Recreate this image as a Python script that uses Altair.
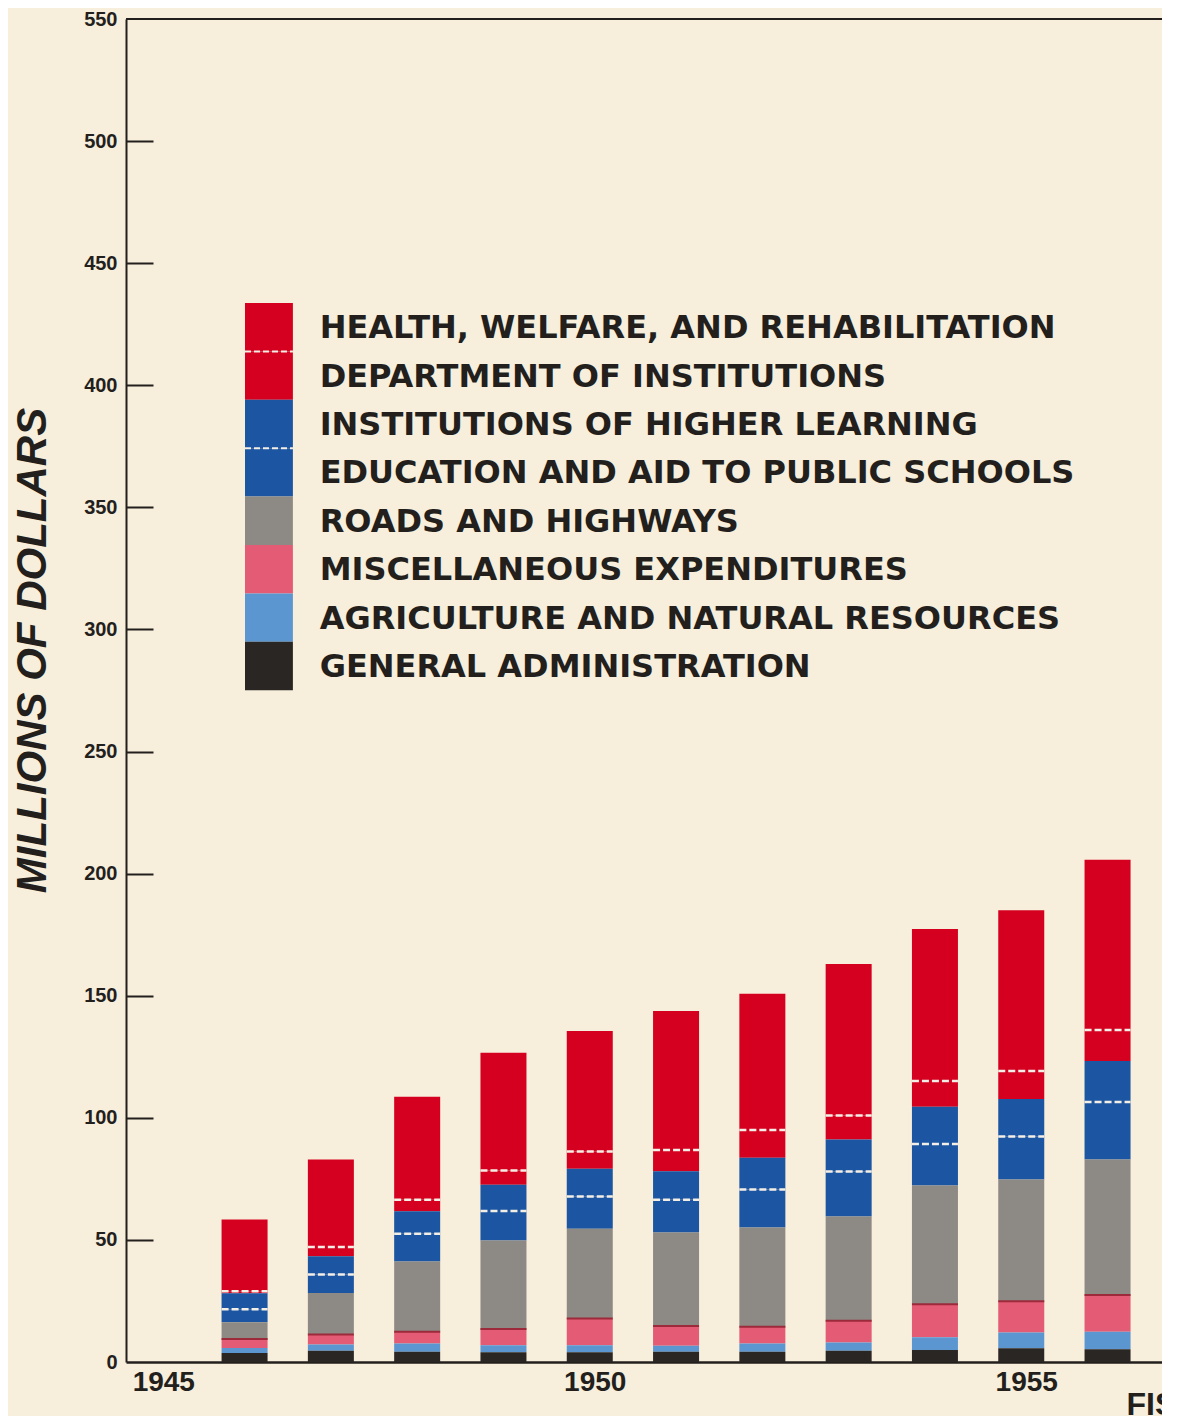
import altair as alt
import pandas as pd

# ---------------- data (millions of dollars) ----------------
years = [1946, 1947, 1948, 1949, 1950, 1951, 1952, 1953, 1954, 1955, 1956]

general_admin = [3.7, 4.6, 4.2, 4.0, 4.0, 4.2, 4.2, 4.6, 4.9, 5.6, 5.2]
agriculture   = [2.0, 2.6, 3.4, 2.9, 2.9, 2.5, 3.4, 3.4, 5.2, 6.5, 7.2]
miscellaneous = [3.7, 4.1, 4.8, 6.6, 10.9, 8.0, 6.8, 8.9, 13.6, 12.8, 15.0]
roads         = [6.9, 17.0, 28.8, 36.3, 36.8, 38.3, 40.7, 42.7, 48.6, 49.8, 55.5]
education     = [5.3, 7.5, 11.3, 12.0, 13.2, 13.4, 15.5, 18.4, 17.0, 17.6, 23.6]
higher_learn  = [6.6, 7.5, 9.2, 10.8, 11.3, 11.7, 13.0, 13.1, 15.2, 15.4, 16.8]
institutions  = [0.8, 3.8, 4.7, 5.8, 7.1, 8.7, 11.4, 9.8, 10.6, 11.5, 12.7]
health        = [29.4, 35.8, 42.2, 48.2, 49.4, 56.9, 55.8, 62.1, 62.2, 65.8, 69.7]

categories = [
    "HEALTH, WELFARE, AND REHABILITATION",
    "DEPARTMENT OF INSTITUTIONS",
    "INSTITUTIONS OF HIGHER LEARNING",
    "EDUCATION AND AID TO PUBLIC SCHOOLS",
    "ROADS AND HIGHWAYS",
    "MISCELLANEOUS EXPENDITURES",
    "AGRICULTURE AND NATURAL RESOURCES",
    "GENERAL ADMINISTRATION",
]
colors = ["#d5001f", "#d5001f", "#1c55a1", "#1c55a1", "#8d8a85", "#e35b74", "#5b96d1", "#2a2624"]
series = [health, institutions, higher_learn, education, roads, miscellaneous, agriculture, general_admin]
split_below = [0, 1, 0, 1, 0, 0, 0, 0]   # white dashed divider on top of these legend rows

y_ticks = [0, 50, 100, 150, 200, 250, 300, 350, 400, 450, 500, 550]
y_inner_ticks = [50, 100, 150, 200, 250, 300, 350, 400, 450, 500]
x_ticks = [1945, 1950, 1955]

# ---------------- tables built from the arrays ----------------
rows = []
n = len(categories)
for ci, (cat, col, vals) in enumerate(zip(categories, colors, series)):
    for yr, v in zip(years, vals):
        rows.append({"year": yr, "category": cat, "value": v, "color": col,
                     "stack_order": n - 1 - ci})
long_df = pd.DataFrame(rows)

wide_df = pd.DataFrame({
    "year": years, "ga": general_admin, "agri": agriculture, "misc": miscellaneous,
    "roads": roads, "edu": education, "higher": higher_learn, "inst": institutions,
    "health": health,
})

leg_df = pd.DataFrame({"label": categories, "color": colors,
                       "row": list(range(n)), "split": split_below})

# ---------------- layout constants ----------------
W, H = 1036, 1343
HALF = 0.2665            # half bar width in years
LEG_TOP, ROW_H = 433.69, 19.82
SW_X0, SW_X1, TXT_X = 1946.005, 1946.56, 1946.87
INK = "#231f1c"
BG = "#f7eedc"

x_scale = alt.Scale(domain=[1944.626, 1956.631], nice=False, zero=False, padding=0)
y_scale = alt.Scale(domain=[0, 550], nice=False, padding=0)

x_axis = alt.Axis(values=x_ticks, format="d", title="FISCAL YEARS", grid=False,
                  ticks=False, tickSize=0, labelPadding=6, labelOffset=5,
                  labelFlush=False, labelFont="Liberation Sans", labelFontWeight="bold",
                  labelFontSize=28, labelColor=INK, domainColor=INK, domainWidth=2.5,
                  titleFont="Liberation Sans", titleFontWeight="bold", titleFontSize=32,
                  titleColor=INK, titleAlign="left", titleBaseline="alphabetic",
                  titleX=1000, titleY=52)

y_axis = alt.Axis(orient="left", values=y_ticks, title="MILLIONS OF DOLLARS", grid=False,
                  ticks=False, tickSize=0, labelPadding=9, labelFlush=False,
                  labelFont="Liberation Sans", labelFontWeight="bold", labelFontSize=20,
                  labelColor=INK, domainColor=INK, domainWidth=2,
                  titleFont="Liberation Sans", titleFontWeight="bold", titleFontStyle="italic",
                  titleFontSize=42, titleColor=INK, titleAlign="center",
                  titleBaseline="middle", titleX=-94, titleY=631)

tick_axis = alt.Axis(orient="left", values=y_inner_ticks, offset=-27, tickSize=27,
                     tickWidth=2, tickColor=INK, labels=False, domain=False,
                     grid=False, title=None)

# ---------------- layers ----------------
bars = alt.Chart(long_df).mark_bar(size=46).encode(
    x=alt.X("year:Q", scale=x_scale, axis=x_axis),
    y=alt.Y("value:Q", stack="zero", scale=y_scale, axis=y_axis),
    color=alt.Color("color:N", scale=None),
    order=alt.Order("stack_order:Q", sort="ascending"),
)

base_w = alt.Chart(wide_df).transform_calculate(
    x0=f"datum.year - {HALF}", x1=f"datum.year + {HALF}",
    pink_top="datum.ga + datum.agri + datum.misc",
    blue_split="datum.ga + datum.agri + datum.misc + datum.roads + datum.edu",
    red_split="datum.ga + datum.agri + datum.misc + datum.roads + datum.edu + datum.higher + datum.inst",
)

pink_line = base_w.mark_rule(color="#9c2a3b", strokeWidth=2).encode(
    x=alt.X("x0:Q", scale=x_scale), x2="x1:Q",
    y=alt.Y("pink_top:Q", scale=y_scale, axis=None),
)

dashes = base_w.transform_fold(["blue_split", "red_split"], as_=["kind", "level"]).mark_rule(
    color="#f4efe6", strokeWidth=2.5, strokeDash=[7, 3]
).encode(
    x=alt.X("x0:Q", scale=x_scale), x2="x1:Q",
    y=alt.Y("level:Q", scale=y_scale, axis=None),
)

leg_base = alt.Chart(leg_df).transform_calculate(
    top=f"{LEG_TOP} - datum.row * {ROW_H}",
    bot=f"{LEG_TOP} - (datum.row + 1) * {ROW_H}",
    mid=f"{LEG_TOP} - (datum.row + 0.5) * {ROW_H}",
    sx0=f"{SW_X0}", sx1=f"{SW_X1}", tx=f"{TXT_X}",
)

legend_rect = leg_base.mark_rect().encode(
    x=alt.X("sx0:Q", scale=x_scale), x2="sx1:Q",
    y=alt.Y("top:Q", scale=y_scale, axis=None), y2="bot:Q",
    color=alt.Color("color:N", scale=None),
)

legend_dash = leg_base.transform_filter("datum.split == 1").mark_rule(
    color="#f4efe6", strokeWidth=2, strokeDash=[6, 3]
).encode(
    x=alt.X("sx0:Q", scale=x_scale), x2="sx1:Q",
    y=alt.Y("top:Q", scale=y_scale, axis=None),
)

legend_text = leg_base.mark_text(
    align="left", baseline="middle", dy=1, font="DejaVu Sans", fontWeight="bold",
    fontSize=32, color=INK,
).encode(
    x=alt.X("tx:Q", scale=x_scale),
    y=alt.Y("mid:Q", scale=y_scale, axis=None),
    text="label:N",
)

border = alt.Chart(pd.DataFrame({"v": [550]})).mark_rule(color=INK, strokeWidth=2).encode(
    y=alt.Y("v:Q", scale=y_scale, axis=tick_axis),
)

chart = alt.layer(
    bars, pink_line, dashes, legend_rect, legend_dash, legend_text, border
).resolve_axis(y="independent").properties(
    width=W, height=H,
    padding={"left": 118, "top": 11, "right": 0, "bottom": 54},
    autosize=alt.AutoSizeParams(type="none"),
    background=BG,
).configure_view(stroke=None)

chart.save("out.html", embed_options={"renderer": "svg", "actions": False})
